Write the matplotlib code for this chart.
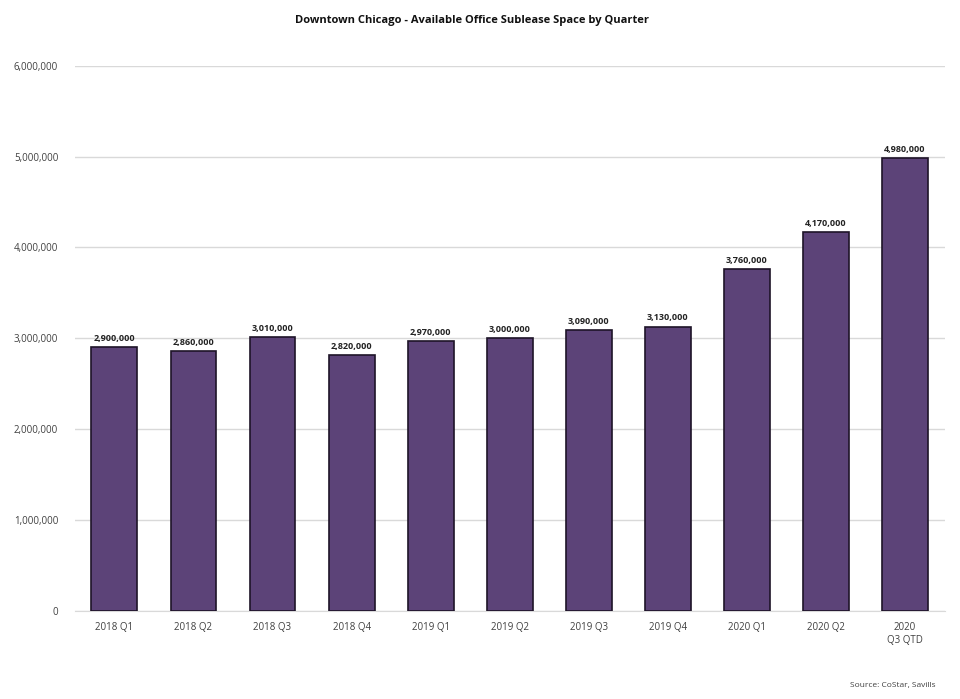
import matplotlib
matplotlib.use("Agg")
import matplotlib.pyplot as plt
from matplotlib.ticker import FuncFormatter

quarters = ["2018 Q1", "2018 Q2", "2018 Q3", "2018 Q4", "2019 Q1", "2019 Q2",
            "2019 Q3", "2019 Q4", "2020 Q1", "2020 Q2", "2020\nQ3 QTD"]
space = [2900000, 2860000, 3010000, 2820000, 2970000, 3000000,
         3090000, 3130000, 3760000, 4170000, 4980000]
yticks = [0, 1000000, 2000000, 3000000, 4000000, 5000000, 6000000]

plt.rcParams['font.family'] = ['Open Sans', 'DejaVu Sans']

fig = plt.figure(figsize=(9.6, 6.99), dpi=100)
ax = fig.add_axes([0.078, 0.126, 0.906, 0.78])

x = range(len(quarters))
patches = ax.bar(x, space, width=0.58, color='#5c4378', edgecolor='#1e1428', linewidth=1.2, zorder=3)
labels = ['{:,}'.format(v) for v in space]
ax.bar_label(patches, labels, padding=3, fontsize=6.5, fontweight='bold', color='#222222')

ax.set_xlim(-0.5, len(quarters) - 0.5)
ax.set_ylim(0, 6000000)
ax.set_yticks(yticks)
ax.yaxis.set_major_formatter(FuncFormatter(lambda v, p: '{:,}'.format(int(v))))
ax.set_xticks(list(x), labels=quarters)
ax.grid(axis='y', color='#d9d9d9', linewidth=1, zorder=0)
for s in ['top', 'right', 'left']:
    ax.spines[s].set_visible(False)
ax.spines['bottom'].set_color('#d9d9d9')
ax.tick_params(axis='both', length=0, labelsize=7, colors='#404040', pad=8)
ax.tick_params(axis='y', pad=12)

fig.text(0.492, 0.97, 'Downtown Chicago - Available Office Sublease Space by Quarter',
         ha='center', va='center', fontsize=8, fontweight='bold', color='#111111')
fig.text(0.975, 0.02, 'Source: CoStar, Savills', ha='right', va='center', fontsize=6, color='#404040')

fig.savefig('out.png', dpi=100)
